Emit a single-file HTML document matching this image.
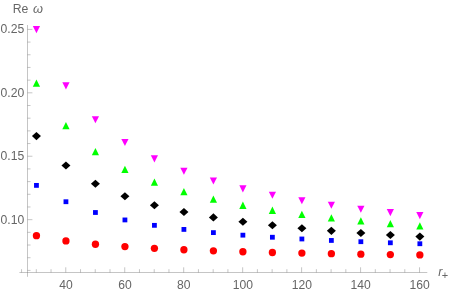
<!DOCTYPE html><html><head><meta charset="utf-8"><style>html,body{margin:0;padding:0;background:#fff}body{width:450px;height:295px;overflow:hidden;position:relative}svg{will-change:transform;display:block;position:absolute;left:0;top:0}text{font-family:"Liberation Sans",sans-serif;fill:#666}</style></head><body>
<svg width="450" height="295" viewBox="0 0 450 295">
<rect width="450" height="295" fill="#fff"/>
<path d="M27.5 25 V276.8 M19.4 272.5 H427.3 M27.5 270.40 h3.0 M27.5 257.71 h3.0 M27.5 245.03 h3.0 M27.5 232.34 h3.0 M27.5 219.66 h4.9 M27.5 206.98 h3.0 M27.5 194.29 h3.0 M27.5 181.61 h3.0 M27.5 168.92 h3.0 M27.5 156.24 h4.9 M27.5 143.56 h3.0 M27.5 130.87 h3.0 M27.5 118.19 h3.0 M27.5 105.50 h3.0 M27.5 92.82 h4.9 M27.5 80.14 h3.0 M27.5 67.45 h3.0 M27.5 54.77 h3.0 M27.5 42.08 h3.0 M27.5 29.40 h4.9 M21.56 272.5 v-3.3 M36.30 272.5 v-3.3 M51.04 272.5 v-3.3 M65.78 272.5 v-5.2 M80.52 272.5 v-3.3 M95.26 272.5 v-3.3 M110.00 272.5 v-3.3 M124.74 272.5 v-5.2 M139.48 272.5 v-3.3 M154.22 272.5 v-3.3 M168.96 272.5 v-3.3 M183.70 272.5 v-5.2 M198.44 272.5 v-3.3 M213.18 272.5 v-3.3 M227.92 272.5 v-3.3 M242.66 272.5 v-5.2 M257.40 272.5 v-3.3 M272.14 272.5 v-3.3 M286.88 272.5 v-3.3 M301.62 272.5 v-5.2 M316.36 272.5 v-3.3 M331.10 272.5 v-3.3 M345.84 272.5 v-3.3 M360.58 272.5 v-5.2 M375.32 272.5 v-3.3 M390.06 272.5 v-3.3 M404.80 272.5 v-3.3 M419.54 272.5 v-5.2" stroke="#666" stroke-width="0.38" fill="none"/>
<text x="24.2" y="32.90" font-size="12.5" text-anchor="end" textLength="23.72" lengthAdjust="spacingAndGlyphs">0.25</text>
<text x="24.2" y="96.72" font-size="12.5" text-anchor="end" textLength="23.72" lengthAdjust="spacingAndGlyphs">0.20</text>
<text x="24.2" y="160.24" font-size="12.5" text-anchor="end" textLength="23.72" lengthAdjust="spacingAndGlyphs">0.15</text>
<text x="24.2" y="223.86" font-size="12.5" text-anchor="end" textLength="23.72" lengthAdjust="spacingAndGlyphs">0.10</text>
<text x="65.93" y="288.65" font-size="12.5" text-anchor="middle" textLength="13.48" lengthAdjust="spacingAndGlyphs">40</text>
<text x="124.89" y="288.65" font-size="12.5" text-anchor="middle" textLength="13.48" lengthAdjust="spacingAndGlyphs">60</text>
<text x="183.85" y="288.65" font-size="12.5" text-anchor="middle" textLength="13.48" lengthAdjust="spacingAndGlyphs">80</text>
<text x="242.81" y="288.65" font-size="12.5" text-anchor="middle" textLength="20.22" lengthAdjust="spacingAndGlyphs">100</text>
<text x="301.77" y="288.65" font-size="12.5" text-anchor="middle" textLength="20.22" lengthAdjust="spacingAndGlyphs">120</text>
<text x="360.73" y="288.65" font-size="12.5" text-anchor="middle" textLength="20.22" lengthAdjust="spacingAndGlyphs">140</text>
<text x="419.69" y="288.65" font-size="12.5" text-anchor="middle" textLength="20.22" lengthAdjust="spacingAndGlyphs">160</text>
<text x="12.75" y="12.6" font-size="12.5" textLength="15.66" lengthAdjust="spacingAndGlyphs">Re</text>
<text x="32.95" y="12.6" font-size="12.8" font-style="italic">ω</text>
<text x="438.2" y="275.6" font-size="12.5" font-style="italic">r</text>
<text x="444.85" y="279.3" font-size="11" text-anchor="middle">+</text>
<circle cx="36.45" cy="235.71" r="3.65" fill="#ff0000"/>
<rect x="34.05" y="182.99" width="4.8" height="4.8" fill="#0000ff"/>
<path d="M31.95 136.11 L36.45 132.06 L40.95 136.11 L36.45 140.16 Z" fill="#000"/>
<path d="M32.85 86.71 H40.05 L36.45 79.41 Z" fill="#00ff00"/>
<path d="M32.85 26.09 H40.05 L36.45 33.19 Z" fill="#ff00ff"/>
<circle cx="65.94" cy="240.94" r="3.65" fill="#ff0000"/>
<rect x="63.54" y="199.33" width="4.8" height="4.8" fill="#0000ff"/>
<path d="M61.44 165.57 L65.94 161.52 L70.44 165.57 L65.94 169.62 Z" fill="#000"/>
<path d="M62.34 129.30 H69.54 L65.94 122.00 Z" fill="#00ff00"/>
<path d="M62.34 82.33 H69.54 L65.94 89.43 Z" fill="#ff00ff"/>
<circle cx="95.43" cy="244.26" r="3.65" fill="#ff0000"/>
<rect x="93.03" y="210.10" width="4.8" height="4.8" fill="#0000ff"/>
<path d="M90.93 183.79 L95.43 179.74 L99.93 183.79 L95.43 187.84 Z" fill="#000"/>
<path d="M91.83 155.36 H99.03 L95.43 148.06 Z" fill="#00ff00"/>
<path d="M91.83 116.17 H99.03 L95.43 123.27 Z" fill="#ff00ff"/>
<circle cx="124.93" cy="246.60" r="3.65" fill="#ff0000"/>
<rect x="122.53" y="217.54" width="4.8" height="4.8" fill="#0000ff"/>
<path d="M120.43 196.20 L124.93 192.15 L129.43 196.20 L124.93 200.25 Z" fill="#000"/>
<path d="M121.33 172.97 H128.53 L124.93 165.67 Z" fill="#00ff00"/>
<path d="M121.33 138.94 H128.53 L124.93 146.04 Z" fill="#ff00ff"/>
<circle cx="154.42" cy="248.36" r="3.65" fill="#ff0000"/>
<rect x="152.02" y="222.94" width="4.8" height="4.8" fill="#0000ff"/>
<path d="M149.92 205.21 L154.42 201.16 L158.92 205.21 L154.42 209.26 Z" fill="#000"/>
<path d="M150.82 185.70 H158.02 L154.42 178.40 Z" fill="#00ff00"/>
<path d="M150.82 155.36 H158.02 L154.42 162.46 Z" fill="#ff00ff"/>
<circle cx="183.91" cy="249.73" r="3.65" fill="#ff0000"/>
<rect x="181.51" y="227.02" width="4.8" height="4.8" fill="#0000ff"/>
<path d="M179.41 212.05 L183.91 208.00 L188.41 212.05 L183.91 216.10 Z" fill="#000"/>
<path d="M180.31 195.31 H187.51 L183.91 188.01 Z" fill="#00ff00"/>
<path d="M180.31 167.77 H187.51 L183.91 174.87 Z" fill="#ff00ff"/>
<circle cx="213.40" cy="250.83" r="3.65" fill="#ff0000"/>
<rect x="211.00" y="230.21" width="4.8" height="4.8" fill="#0000ff"/>
<path d="M208.90 217.42 L213.40 213.37 L217.90 217.42 L213.40 221.47 Z" fill="#000"/>
<path d="M209.80 202.84 H217.00 L213.40 195.54 Z" fill="#00ff00"/>
<path d="M209.80 177.50 H217.00 L213.40 184.60 Z" fill="#ff00ff"/>
<circle cx="242.89" cy="251.73" r="3.65" fill="#ff0000"/>
<rect x="240.49" y="232.76" width="4.8" height="4.8" fill="#0000ff"/>
<path d="M238.39 221.75 L242.89 217.70 L247.39 221.75 L242.89 225.80 Z" fill="#000"/>
<path d="M239.29 208.90 H246.49 L242.89 201.60 Z" fill="#00ff00"/>
<path d="M239.29 185.33 H246.49 L242.89 192.43 Z" fill="#ff00ff"/>
<circle cx="272.39" cy="252.48" r="3.65" fill="#ff0000"/>
<rect x="269.99" y="234.84" width="4.8" height="4.8" fill="#0000ff"/>
<path d="M267.89 225.32 L272.39 221.27 L276.89 225.32 L272.39 229.37 Z" fill="#000"/>
<path d="M268.79 213.88 H275.99 L272.39 206.58 Z" fill="#00ff00"/>
<path d="M268.79 191.77 H275.99 L272.39 198.87 Z" fill="#ff00ff"/>
<circle cx="301.88" cy="253.12" r="3.65" fill="#ff0000"/>
<rect x="299.48" y="236.58" width="4.8" height="4.8" fill="#0000ff"/>
<path d="M297.38 228.31 L301.88 224.26 L306.38 228.31 L301.88 232.36 Z" fill="#000"/>
<path d="M298.28 218.04 H305.48 L301.88 210.74 Z" fill="#00ff00"/>
<path d="M298.28 197.16 H305.48 L301.88 204.26 Z" fill="#ff00ff"/>
<circle cx="331.37" cy="253.67" r="3.65" fill="#ff0000"/>
<rect x="328.97" y="238.05" width="4.8" height="4.8" fill="#0000ff"/>
<path d="M326.87 230.85 L331.37 226.80 L335.87 230.85 L331.37 234.90 Z" fill="#000"/>
<path d="M327.77 221.57 H334.97 L331.37 214.27 Z" fill="#00ff00"/>
<path d="M327.77 201.74 H334.97 L331.37 208.84 Z" fill="#ff00ff"/>
<circle cx="360.86" cy="254.15" r="3.65" fill="#ff0000"/>
<rect x="358.46" y="239.30" width="4.8" height="4.8" fill="#0000ff"/>
<path d="M356.36 233.03 L360.86 228.98 L365.36 233.03 L360.86 237.08 Z" fill="#000"/>
<path d="M357.26 224.61 H364.46 L360.86 217.31 Z" fill="#00ff00"/>
<path d="M357.26 205.68 H364.46 L360.86 212.78 Z" fill="#ff00ff"/>
<circle cx="390.35" cy="254.57" r="3.65" fill="#ff0000"/>
<rect x="387.95" y="240.39" width="4.8" height="4.8" fill="#0000ff"/>
<path d="M385.85 234.93 L390.35 230.88 L394.85 234.93 L390.35 238.98 Z" fill="#000"/>
<path d="M386.75 227.25 H393.95 L390.35 219.95 Z" fill="#00ff00"/>
<path d="M386.75 209.11 H393.95 L390.35 216.21 Z" fill="#ff00ff"/>
<circle cx="419.85" cy="254.94" r="3.65" fill="#ff0000"/>
<rect x="417.45" y="241.34" width="4.8" height="4.8" fill="#0000ff"/>
<path d="M415.35 236.60 L419.85 232.55 L424.35 236.60 L419.85 240.65 Z" fill="#000"/>
<path d="M416.25 229.56 H423.45 L419.85 222.26 Z" fill="#00ff00"/>
<path d="M416.25 212.11 H423.45 L419.85 219.21 Z" fill="#ff00ff"/>
</svg></body></html>
